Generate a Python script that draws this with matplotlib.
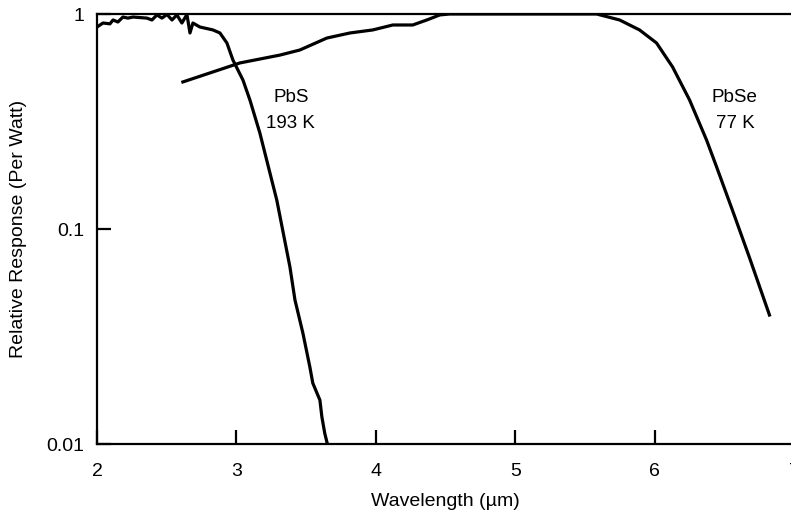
import matplotlib
matplotlib.use("Agg")
import matplotlib.pyplot as plt
from matplotlib.ticker import NullLocator

plt.rcParams['font.family'] = ['Liberation Sans', 'DejaVu Sans']

# PbS detector at 193 K: wavelength (um) and relative response
pbs_wavelength = [2.0, 2.043, 2.093, 2.115, 2.15, 2.186, 2.222, 2.258, 2.358, 2.394,
                  2.43, 2.466, 2.502, 2.538, 2.573, 2.609, 2.645, 2.667, 2.688, 2.738,
                  2.832, 2.882, 2.932, 2.975, 3.047, 3.097, 3.168, 3.29, 3.384, 3.42,
                  3.477, 3.527, 3.548, 3.599, 3.613, 3.634, 3.656]
pbs_response = [0.87, 0.908, 0.90, 0.938, 0.918, 0.968, 0.957, 0.968, 0.957, 0.938,
                0.99, 0.957, 0.995, 0.938, 0.99, 0.908, 0.995, 0.816, 0.908, 0.87,
                0.843, 0.816, 0.733, 0.611, 0.493, 0.398, 0.28, 0.136, 0.0666, 0.0468,
                0.0328, 0.0228, 0.0192, 0.016, 0.0134, 0.0112, 0.0098]

# PbSe detector at 77 K
pbse_wavelength = [2.616, 3.025, 3.312, 3.455, 3.649, 3.814, 3.978, 4.122, 4.265, 4.366,
                   4.459, 4.53, 5.584, 5.749, 5.892, 6.014, 6.129, 6.251, 6.373, 6.444,
                   6.559, 6.681, 6.824]
pbse_response = [0.483, 0.592, 0.644, 0.68, 0.773, 0.816, 0.843, 0.889, 0.889, 0.938,
                 0.99, 1.0, 1.0, 0.938, 0.843, 0.733, 0.567, 0.398, 0.259, 0.195,
                 0.122, 0.0735, 0.0398]

x_ticks = [2, 3, 4, 5, 6, 7]
y_ticks = [0.01, 0.1, 1]
y_tick_labels = ["0.01", "0.1", "1"]

fig = plt.figure(figsize=(7.91, 5.11), dpi=100)
ax = fig.add_axes([97 / 791, 1 - 444 / 511, 697 / 791, 430 / 511])

ax.plot(pbs_wavelength, pbs_response, color='black', lw=2.3, solid_joinstyle='round')
ax.plot(pbse_wavelength, pbse_response, color='black', lw=2.3, solid_joinstyle='round')

ax.set_yscale('log')
ax.set_xlim(2, 7)
ax.set_ylim(0.01, 1)
ax.set_xticks(x_ticks)
ax.set_xticklabels([str(t) for t in x_ticks])
ax.set_yticks(y_ticks)
ax.set_yticklabels(y_tick_labels)
ax.yaxis.set_minor_locator(NullLocator())
ax.xaxis.set_minor_locator(NullLocator())

ax.tick_params(direction='in', length=10, width=1.6, labelsize=14, colors='black')
ax.tick_params(axis='x', pad=14)
ax.tick_params(axis='y', pad=9)
for side in ['left', 'bottom', 'top', 'right']:
    ax.spines[side].set_linewidth(1.6)

# curve annotations: material and operating temperature
ax.text(3.39, 0.411, "PbS", ha='center', va='center', fontsize=13.5)
ax.text(3.39, 0.311, "193 K", ha='center', va='center', fontsize=13.5)
ax.text(6.57, 0.411, "PbSe", ha='center', va='center', fontsize=13.5)
ax.text(6.58, 0.311, "77 K", ha='center', va='center', fontsize=13.5)

ax.set_xlabel("Wavelength (\u00b5m)", fontsize=14, labelpad=9)
ax.set_ylabel("Relative Response (Per Watt)", fontsize=14, labelpad=14)

fig.savefig("out.png", dpi=100)
